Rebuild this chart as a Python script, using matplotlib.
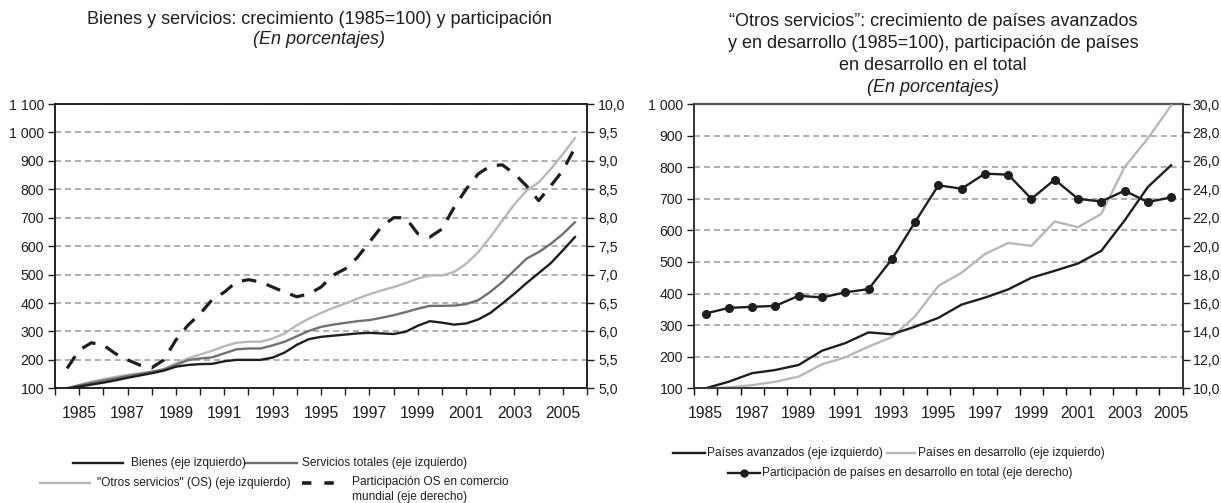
import matplotlib
matplotlib.use("Agg")
import matplotlib.pyplot as plt
from matplotlib import font_manager
from matplotlib.ticker import FixedLocator, FuncFormatter
from matplotlib.lines import Line2D

# ---------------- data ----------------
# Left chart (half-year readings)
years_l = [1984.5 + 0.5 * i for i in range(43)]
bienes = [100, 106, 113, 120, 128, 137, 145, 153, 162, 176, 182, 185, 186, 195, 200, 200,
          200, 208, 226, 253, 273, 281, 285, 289, 293, 295, 293, 291, 299, 320, 336, 331,
          324, 328, 342, 365, 398, 433, 470, 505, 540, 585, 632]
servicios = [100, 110, 119, 127, 135, 143, 150, 158, 166, 182, 199, 205, 209, 223, 237, 240,
             240, 251, 264, 283, 302, 316, 324, 330, 336, 340, 348, 357, 368, 380, 390, 390,
             391, 396, 410, 439, 474, 515, 556, 579, 608, 643, 684]
otros = [100, 112, 123, 132, 140, 147, 153, 158, 168, 188, 205, 219, 232, 248, 260, 264,
         264, 275, 293, 322, 345, 365, 383, 398, 415, 431, 444, 456, 470, 486, 497, 497,
         509, 538, 579, 632, 690, 748, 795, 824, 871, 924, 980]
particip_os = [5.35, 5.67, 5.80, 5.76, 5.61, 5.50, 5.41, 5.36, 5.50, 5.85, 6.11, 6.31, 6.56,
               6.69, 6.87, 6.91, 6.87, 6.78, 6.69, 6.61, 6.66, 6.78, 6.99, 7.10, 7.30, 7.57,
               7.84, 8.00, 8.00, 7.72, 7.66, 7.80, 8.18, 8.50, 8.77, 8.91, 8.93, 8.77, 8.56,
               8.30, 8.56, 8.83, 9.23]

# Right chart (annual)
years_r = list(range(1985, 2006))
avanzados = [100, 121, 148, 158, 174, 219, 243, 277, 271, 295, 323, 365, 387, 413, 450,
             472, 495, 535, 631, 737, 806]
desarrollo = [100, 103, 110, 121, 137, 176, 198, 232, 262, 328, 424, 466, 525, 560, 551,
              628, 610, 652, 800, 891, 995]
particip_des = [15.26, 15.66, 15.73, 15.80, 16.51, 16.39, 16.75, 16.98, 19.07, 21.70, 24.28,
                24.04, 25.10, 25.03, 23.33, 24.68, 23.33, 23.14, 23.90, 23.10, 23.43]

xlabels_years = list(range(1985, 2006, 2))

title_l = ["Bienes y servicios: crecimiento (1985=100) y participación", "(En porcentajes)"]
title_r = ["\u201cOtros servicios\u201d: crecimiento de países avanzados",
           "y en desarrollo (1985=100), participación de países",
           "en desarrollo en el total", "(En porcentajes)"]
leg_l = ["Bienes (eje izquierdo)", "Servicios totales (eje izquierdo)",
         '"Otros servicios" (OS) (eje izquierdo)',
         "Participación OS en comercio\nmundial (eje derecho)"]
leg_r = ["Países avanzados (eje izquierdo)", "Países en desarrollo (eje izquierdo)",
         "Participación de países en desarrollo en total (eje derecho)"]

# ---------------- style ----------------
names = {f.name for f in font_manager.fontManager.ttflist}
base_font = "Liberation Sans" if "Liberation Sans" in names else "DejaVu Sans"
plt.rcParams["font.family"] = [base_font, "DejaVu Sans"]

W, H = 1221, 503
fig = plt.figure(figsize=(W / 100, H / 100), dpi=100)

def fx(px):
    return px / W

def fy(py):
    return 1 - py / H

GRID = dict(color="#9a9a9a", linestyle=(0, (4, 2.5)), linewidth=1.1)
XTICK_FS = 11.3
YTICK_FS = 10.2
TITLE_FS = 13
LEG_FS = 8.6
TXT = "#1e1e1e"
C_BLACK = "#1e1e1e"
C_MID = "#707070"
C_LIGHT = "#b8b8b8"
LW = 1.7

def fmt_thousands(v, pos):
    return f"{int(round(v)):,}".replace(",", " ")

def fmt_comma(v, pos):
    return f"{v:.1f}".replace(".", ",")

# ---------------- left chart ----------------
axL = fig.add_axes([fx(55), fy(388.3), fx(587) - fx(55), fy(104) - fy(388.3)])
axL.set_xlim(1984, 2006)
axL.set_ylim(100, 1100)
axL.set_yticks(range(100, 1101, 100))
axL.yaxis.set_major_formatter(FuncFormatter(fmt_thousands))
axL.grid(axis="y", **GRID)
axL.set_axisbelow(True)
axL.set_xticks(xlabels_years)
axL.set_xticklabels([str(y) for y in xlabels_years])
axL.xaxis.set_minor_locator(FixedLocator(list(range(1984, 2007))))
axL.tick_params(axis="x", which="both", direction="out", length=5, width=1, pad=8,
                labelsize=XTICK_FS, colors=TXT)
axL.tick_params(axis="y", direction="out", length=5, width=1, labelsize=YTICK_FS, pad=3,
                colors=TXT)
for s in axL.spines.values():
    s.set_color("#222222")
    s.set_linewidth(1.2)

axL.plot(years_l, otros, color=C_LIGHT, lw=LW, zorder=3)
axL.plot(years_l, servicios, color=C_MID, lw=LW, zorder=4)
axL.plot(years_l, bienes, color=C_BLACK, lw=LW, zorder=5)

axL2 = axL.twinx()
axL2.set_ylim(5.0, 10.0)
axL2.set_yticks([5.0 + 0.5 * i for i in range(11)])
axL2.yaxis.set_major_formatter(FuncFormatter(fmt_comma))
axL2.tick_params(axis="y", direction="out", length=5, width=1, labelsize=YTICK_FS, pad=3,
                 colors=TXT)
for s in axL2.spines.values():
    s.set_color("#222222")
    s.set_linewidth(1.2)
axL2.plot(years_l, particip_os, color=C_BLACK, lw=2.3, dashes=(4.6, 3.4), zorder=6)

# titles
fig.text(fx(319), fy(19), title_l[0], ha="center", va="center", fontsize=TITLE_FS, color=TXT)
fig.text(fx(319), fy(40), title_l[1], ha="center", va="center", fontsize=TITLE_FS,
         style="italic", color=TXT)

# manual legend helpers
def leg_line(x0, x1, y, **kw):
    fig.add_artist(Line2D([fx(x0), fx(x1)], [fy(y), fy(y)], transform=fig.transFigure, **kw))

def leg_text(x, y, s, va="center"):
    fig.text(fx(x), fy(y), s, ha="left", va=va, fontsize=LEG_FS, color=TXT, linespacing=1.3)

# left legend
leg_line(73, 123, 463, color=C_BLACK, lw=LW)
leg_text(131, 463, leg_l[0])
leg_line(245, 297, 463, color=C_MID, lw=LW)
leg_text(302, 463, leg_l[1])
leg_line(40, 90, 483, color=C_LIGHT, lw=LW)
leg_text(97, 483, leg_l[2])
leg_line(302, 344, 483, color=C_BLACK, lw=2.6, dashes=(2.6, 3.6), solid_capstyle="butt",
         dash_capstyle="butt")
leg_text(352, 476.5, leg_l[3], va="top")

# ---------------- right chart ----------------
axR = fig.add_axes([fx(694), fy(388.3), fx(1182.7) - fx(694), fy(104) - fy(388.3)])
axR.set_xlim(1984.5, 2005.5)
axR.set_ylim(100, 1000)
axR.set_yticks(range(100, 1001, 100))
axR.yaxis.set_major_formatter(FuncFormatter(fmt_thousands))
axR.grid(axis="y", **GRID)
axR.set_axisbelow(True)
axR.set_xticks(xlabels_years)
axR.set_xticklabels([str(y) for y in xlabels_years])
axR.xaxis.set_minor_locator(FixedLocator([1984.5 + i for i in range(22)]))
axR.tick_params(axis="x", which="major", length=0, pad=13, labelsize=XTICK_FS, colors=TXT)
axR.tick_params(axis="x", which="minor", direction="out", length=5, width=1)
axR.tick_params(axis="y", direction="out", length=5, width=1, labelsize=YTICK_FS, pad=3,
                colors=TXT)
for s in axR.spines.values():
    s.set_color("#333333")
    s.set_linewidth(1.2)
axR.spines["top"].set_color("#555555")
axR.spines["top"].set_linewidth(1.6)

axR.plot(years_r, desarrollo, color=C_LIGHT, lw=LW, zorder=3)
axR.plot(years_r, avanzados, color=C_BLACK, lw=LW, zorder=4)

axR2 = axR.twinx()
axR2.set_ylim(10, 30)
axR2.set_yticks(range(10, 31, 2))
axR2.yaxis.set_major_formatter(FuncFormatter(fmt_comma))
axR2.tick_params(axis="y", direction="out", length=5, width=1, labelsize=YTICK_FS, pad=2,
                 colors=TXT)
for s in axR2.spines.values():
    s.set_color("#333333")
    s.set_linewidth(1.2)
axR2.spines["top"].set_visible(False)
axR2.plot(years_r, particip_des, color=C_BLACK, lw=LW, marker="o", markersize=5.5, zorder=6)

for i, t in enumerate(title_r):
    fig.text(fx(933), fy(22 + 21.7 * i), t, ha="center", va="center", fontsize=TITLE_FS,
             style="italic" if i == 3 else "normal", color=TXT)

# right legend
leg_line(673, 705, 453, color=C_BLACK, lw=LW)
leg_text(707, 453, leg_r[0])
leg_line(887, 915, 453, color=C_LIGHT, lw=LW)
leg_text(918, 453, leg_r[1])
leg_line(728, 760, 473, color=C_BLACK, lw=LW)
fig.add_artist(Line2D([fx(744)], [fy(473)], transform=fig.transFigure, marker="o",
                      markersize=5, color=C_BLACK, lw=0))
leg_text(762, 473, leg_r[2])

fig.savefig("out.png", dpi=100)
